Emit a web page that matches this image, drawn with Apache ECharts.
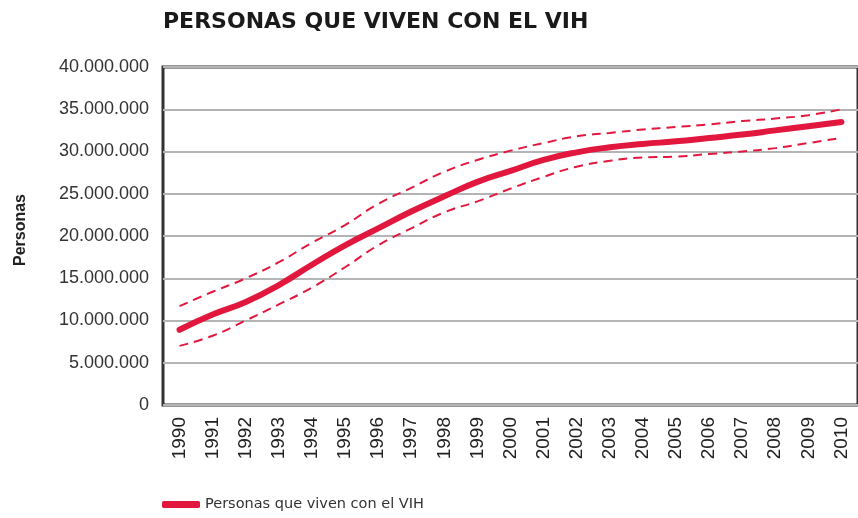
<!DOCTYPE html>
<html><head><meta charset="utf-8">
<script src="https://cdn.jsdelivr.net/npm/echarts@6/dist/echarts.min.js"></script>
<style>html,body{margin:0;padding:0;background:#fff}#c{width:858px;height:518px}</style>
</head><body><div id="c"></div>
<script>
var years = ['1990','1991','1992','1993','1994','1995','1996','1997','1998','1999','2000','2001','2002','2003','2004','2005','2006','2007','2008','2009','2010'];
var estimate = [8.9, 10.7, 12.2, 14.2, 16.6, 18.9, 20.9, 22.9, 24.7, 26.4, 27.7, 29.0, 29.9, 30.5, 30.9, 31.2, 31.6, 32.0, 32.5, 33.0, 33.5];
var upper = [11.7, 13.4, 15.0, 16.9, 19.2, 21.3, 23.8, 25.7, 27.6, 29.0, 30.1, 31.0, 31.8, 32.2, 32.6, 32.9, 33.2, 33.6, 33.9, 34.3, 35.0];
var lower = [7.0, 8.2, 10.0, 11.9, 13.9, 16.3, 18.9, 20.9, 22.8, 24.1, 25.6, 27.0, 28.2, 28.9, 29.3, 29.4, 29.7, 30.0, 30.4, 31.0, 31.6];
var MILLION = 1000000;
var titleText = 'PERSONAS QUE VIVEN CON EL VIH';
var seriesName = 'Personas que viven con el VIH';
var yName = 'Personas';

function toPersons(arr){ return arr.map(function(v){ return Math.round(v*MILLION); }); }
function fmt(v){ return String(v).replace(/\B(?=(\d{3})+(?!\d))/g, '.'); }

var red = '#e2173d';
var chart = echarts.init(document.getElementById('c'));
chart.setOption({
  animation: false,
  title: {
    text: titleText, left: 158, top: 6,
    textStyle: {fontFamily: 'DejaVu Sans', fontWeight: 'bold', fontSize: 22, color: '#1a1a1a'}
  },
  graphic: [{
    type: 'text', x: 21, y: 230, rotation: Math.PI/2,
    style: {text: yName, fontFamily: 'Liberation Sans', fontWeight: 'bold', fontSize: 16, fill: '#222',
            align: 'center', verticalAlign: 'middle'}
  }],
  legend: {
    data: [{name: seriesName, icon: 'roundRect'}],
    left: 157, bottom: 1, itemWidth: 38, itemHeight: 7, itemGap: 10,
    textStyle: {fontFamily: 'DejaVu Sans', fontSize: 14.5, color: '#333'}
  },
  grid: {left: 163, right: -2, top: 67, bottom: 113, show: true, borderColor: '#333', borderWidth: 3},
  xAxis: {
    type: 'category', data: years, boundaryGap: true,
    axisLine: {show: false}, axisTick: {show: false},
    axisLabel: {rotate: 90, margin: 12, fontFamily: 'Liberation Sans', fontSize: 19, color: '#222'}
  },
  yAxis: {
    type: 'value', min: 0, max: 40*MILLION, interval: 5*MILLION,
    axisLine: {show: false}, axisTick: {show: false},
    axisLabel: {margin: 14, fontFamily: 'Liberation Sans', fontSize: 18, color: '#333', formatter: fmt},
    splitLine: {lineStyle: {color: '#b4b4b4', width: 2}}
  },
  series: [
    {name: 'upper', type: 'line', data: toPersons(upper), smooth: true, symbol: 'none',
     lineStyle: {color: red, width: 2, type: [9, 6]}, z: 2},
    {name: 'lower', type: 'line', data: toPersons(lower), smooth: true, symbol: 'none',
     lineStyle: {color: red, width: 2, type: [9, 6]}, z: 2},
    {name: seriesName, type: 'line', data: toPersons(estimate), smooth: true, symbol: 'none',
     itemStyle: {color: red},
     lineStyle: {color: red, width: 6, cap: 'round'}, z: 3}
  ]
});
</script></body></html>
